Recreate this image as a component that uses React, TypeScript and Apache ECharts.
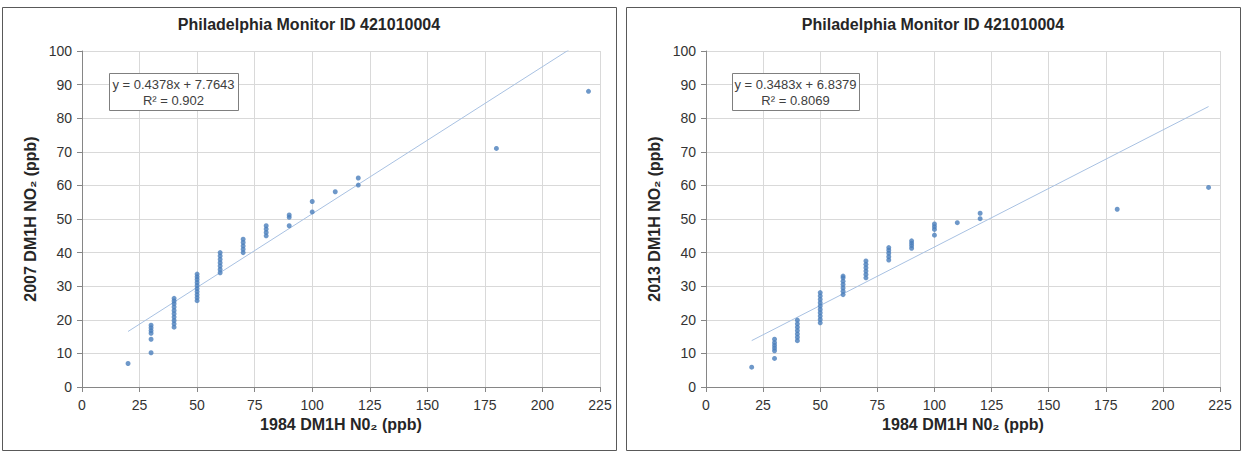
import React, { useEffect, useRef } from "react";
import * as echarts from "echarts";

const FONT = "'Liberation Sans', Arial, sans-serif";
const TITLE = "Philadelphia Monitor ID 421010004";
const X_NAME = "1984 DM1H N0₂ (ppb)";
const Y_NAMES = ["2007 DM1H NO₂ (ppb)", "2013 DM1H NO₂ (ppb)"];

// 1984 vs 2007
const points2007: [number, number][] = [
  [20, 7],
  [30, 10.2], [30, 14.2], [30, 16], [30, 16.8], [30, 17.6], [30, 18.4],
  [40, 17.8], [40, 18.8], [40, 19.8], [40, 20.8], [40, 21.8], [40, 22.8], [40, 23.8], [40, 24.8], [40, 25.6], [40, 26.4],
  [50, 25.7], [50, 26.6], [50, 27.5], [50, 28.4], [50, 29.3], [50, 30.2], [50, 31.1], [50, 32], [50, 32.8], [50, 33.6],
  [60, 34], [60, 35], [60, 36], [60, 37], [60, 38], [60, 39], [60, 40],
  [70, 40], [70, 41], [70, 42], [70, 43], [70, 44],
  [80, 45], [80, 46], [80, 47], [80, 48],
  [90, 48], [90, 50.5], [90, 51.2],
  [100, 52.1], [100, 55.2],
  [110, 58.1],
  [120, 60.1], [120, 62.2],
  [180, 71],
  [220, 88],
];

// 1984 vs 2013
const points2013: [number, number][] = [
  [20, 5.9],
  [30, 8.5], [30, 10.8], [30, 11.6], [30, 12.4], [30, 13.2], [30, 14.2],
  [40, 13.8], [40, 14.8], [40, 15.8], [40, 16.8], [40, 17.8], [40, 18.8], [40, 19.9],
  [50, 19.1], [50, 20.1], [50, 21.1], [50, 22.1], [50, 23.1], [50, 24.1], [50, 25.1], [50, 26.1], [50, 27.1], [50, 28.1],
  [60, 27.5], [60, 28.5], [60, 29.5], [60, 30.5], [60, 31.5], [60, 32.5], [60, 33],
  [70, 32.5], [70, 33.5], [70, 34.5], [70, 35.5], [70, 36.5], [70, 37.5],
  [80, 37.8], [80, 38.8], [80, 39.8], [80, 40.7], [80, 41.5],
  [90, 41.3], [90, 42.1], [90, 42.8], [90, 43.5],
  [100, 45.2], [100, 46.9], [100, 47.7], [100, 48.5],
  [110, 48.9],
  [120, 50.1], [120, 51.7],
  [180, 52.9],
  [220, 59.4],
];

const datasets = [points2007, points2013];
const slopes = [0.4378, 0.3483];
const intercepts = [7.7643, 6.8379];
const r2Labels = ["0.902", "0.8069"];
const trendRange = [20, 220];

const X_MIN = 0, X_MAX = 225, X_INT = 25;
const Y_MIN = 0, Y_MAX = 100, Y_INT = 10;

export default function App() {
  const ref = useRef<HTMLDivElement>(null);
  useEffect(() => {
    if (!ref.current) return;
    const chart = echarts.init(ref.current, undefined, { renderer: "svg" });

    const grids = [
      { left: 82, top: 51, width: 518, height: 336 },
      { left: 706, top: 51, width: 514, height: 336 },
    ];
    const panelCenters = [309, 933];
    const boxes = [
      { x: 109, y: 73, w: 129, h: 37 },
      { x: 732, y: 73, w: 127, h: 37 },
    ];

    const axisLineColor = "#868686";
    const labelStyle = { fontFamily: FONT, fontSize: 14, color: "#333" };
    const nameStyle = { fontFamily: FONT, fontSize: 16, fontWeight: "bold" as const, color: "#262626" };

    const textEl = (x: number, y: number, text: string) => ({
      type: "text",
      z: 101,
      x,
      y,
      style: {
        text,
        fontFamily: FONT,
        fontSize: 13,
        fill: "#404040",
        align: "center",
        verticalAlign: "middle",
      },
    });

    const option: any = {
      animation: false,
      backgroundColor: "#ffffff",
      title: panelCenters.map((cx) => ({
        text: TITLE,
        left: cx,
        top: 16,
        textAlign: "center",
        padding: 0,
        textStyle: { fontFamily: FONT, fontSize: 16, fontWeight: "bold", color: "#262626" },
      })),
      grid: grids,
      xAxis: grids.map((_, i) => ({
        type: "value",
        gridIndex: i,
        min: X_MIN,
        max: X_MAX,
        interval: X_INT,
        name: X_NAME,
        nameLocation: "middle",
        nameGap: 28,
        nameTextStyle: nameStyle,
        axisLine: { show: true, lineStyle: { color: axisLineColor } },
        axisTick: { show: true, length: 5, lineStyle: { color: axisLineColor } },
        axisLabel: { ...labelStyle, margin: 11 },
        splitLine: { show: true, lineStyle: { color: "#d9d9d9", width: 1 } },
      })),
      yAxis: grids.map((_, i) => ({
        type: "value",
        gridIndex: i,
        min: Y_MIN,
        max: Y_MAX,
        interval: Y_INT,
        name: Y_NAMES[i],
        nameLocation: "middle",
        nameGap: 44,
        nameTextStyle: nameStyle,
        axisLine: { show: true, lineStyle: { color: axisLineColor } },
        axisTick: { show: true, length: 5, lineStyle: { color: axisLineColor } },
        axisLabel: { ...labelStyle, margin: 10 },
        splitLine: { show: true, lineStyle: { color: "#d9d9d9", width: 1 } },
      })),
      series: [
        ...datasets.map((d, i) => ({
          type: "scatter",
          xAxisIndex: i,
          yAxisIndex: i,
          data: d,
          symbol: "circle",
          symbolSize: 5,
          itemStyle: { color: "#4a7ebb" },
          z: 3,
        })),
        ...slopes.map((s, i) => ({
          type: "line",
          xAxisIndex: i,
          yAxisIndex: i,
          data: trendRange.map((x) => [x, s * x + intercepts[i]]),
          symbol: "none",
          clip: true,
          lineStyle: { color: "#a8c1e2", width: 1 },
          z: 2,
        })),
      ],
      graphic: [
        ...panelCenters.map((_, i) => ({
          type: "rect",
          z: 0,
          silent: true,
          shape: { x: i === 0 ? 2.5 : 626.5, y: 7.5, width: 614, height: 443 },
          style: { fill: "none", stroke: "#595959", lineWidth: 1 },
        })),
        ...boxes.flatMap((b, i) => [
          {
            type: "rect",
            z: 100,
            shape: { x: b.x + 0.5, y: b.y + 0.5, width: b.w, height: b.h },
            style: { fill: "#ffffff", stroke: "#7f7f7f", lineWidth: 1 },
          },
          textEl(b.x + b.w / 2, b.y + 11, `y = ${slopes[i]}x + ${intercepts[i]}`),
          textEl(b.x + b.w / 2, b.y + 27, `R² = ${r2Labels[i]}`),
        ]),
      ],
    };

    chart.setOption(option);
    return () => chart.dispose();
  }, []);

  return (
    <div
      ref={ref}
      style={{ position: "absolute", left: 0, top: 0, width: 1243, height: 453, background: "#fff" }}
    />
  );
}
